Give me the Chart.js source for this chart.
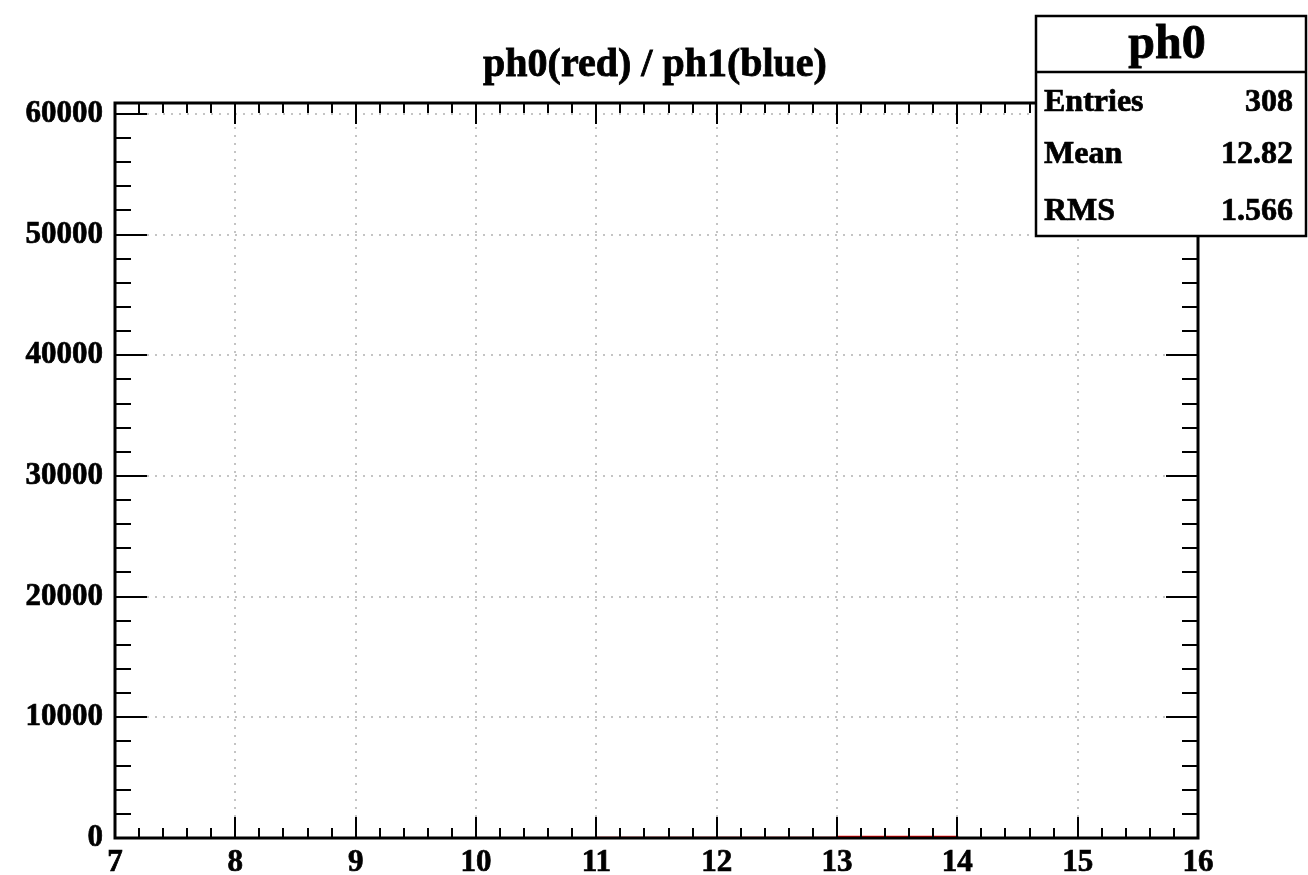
<!DOCTYPE html>
<html>
<head>
<meta charset="utf-8">
<title>ph0 / ph1</title>
<script src="https://cdn.jsdelivr.net/npm/chart.js@4/dist/chart.umd.min.js"></script>
<style>
  html, body { margin: 0; padding: 0; background: #ffffff; }
  #wrap { width: 1308px; height: 875px; position: relative; }
</style>
</head>
<body>
<div id="wrap"><canvas id="c" width="1308" height="875"></canvas></div>
<script>
// Histogram bins: lower edges (width 0.5) and contents
const binLowEdges = [7.0, 7.5, 8.0, 8.5, 9.0, 9.5, 10.0, 10.5, 11.0, 11.5, 12.0, 12.5, 13.0, 13.5, 14.0, 14.5, 15.0, 15.5];
const binUpperEnd = 16.0;
const ph0Counts = [2, 3, 4, 5, 6, 8, 9, 10, 12, 14, 16, 19, 104, 96, 0, 0, 0, 0];
const ph1Counts = [0, 0, 0, 0, 0, 0, 0, 0, 0, 0, 0, 0, 0, 0, 0, 0, 0, 0];

// Axis tick values
const xTickValues = [7, 8, 9, 10, 11, 12, 13, 14, 15, 16];
const yTickValues = [0, 10000, 20000, 30000, 40000, 50000, 60000];
const xRange = [7, 16];
const yRange = [0, 60900];

// Title and statistics box text
const titleText = 'ph0(red) / ph1(blue)';
const statsName = 'ph0';
const statsLabels = ['Entries', 'Mean', 'RMS'];
const statsValues = ['308', '12.82', '1.566'];

const FONT = "'Liberation Serif', 'DejaVu Serif', serif";

// Turn bin contents into step points (left edge of each bin, plus closing edge)
function stepPoints(counts) {
  const pts = binLowEdges.map((x, i) => ({ x: x, y: counts[i] }));
  pts.push({ x: binUpperEnd, y: counts[counts.length - 1] });
  return pts;
}

// Heavy text: fill plus a thin outline in the same colour
function heavyText(ctx, text, x, y, stroke) {
  ctx.fillText(text, x, y);
  ctx.lineWidth = stroke;
  ctx.strokeText(text, x, y);
}

// Frame, inward tick marks, title and stats box in the style of a ROOT canvas
const rootFrame = {
  id: 'rootFrame',
  afterDraw(chart) {
    const ctx = chart.ctx;
    const a = chart.chartArea;
    const xs = chart.scales.x, ys = chart.scales.y;
    ctx.save();
    ctx.strokeStyle = '#000';
    ctx.lineCap = 'butt';

    // inward ticks on all four sides
    ctx.lineWidth = 2;
    ctx.beginPath();
    for (let k = 0; k <= 45; k++) {
      const v = xRange[0] + k * 0.2;
      const px = Math.round(xs.getPixelForValue(v));
      const len = (k % 5 === 0) ? 21 : 10;
      ctx.moveTo(px, a.bottom); ctx.lineTo(px, a.bottom - len);
      ctx.moveTo(px, a.top); ctx.lineTo(px, a.top + len);
    }
    for (let k = 0; k <= 30; k++) {
      const v = k * 2000;
      const py = Math.round(ys.getPixelForValue(v));
      const len = (k % 5 === 0) ? 32 : 16;
      ctx.moveTo(a.left, py); ctx.lineTo(a.left + len, py);
      ctx.moveTo(a.right, py); ctx.lineTo(a.right - len, py);
    }
    ctx.stroke();

    // frame
    ctx.lineWidth = 3;
    ctx.strokeRect(a.left, a.top, a.right - a.left, a.bottom - a.top);

    // title
    ctx.fillStyle = '#000';
    ctx.font = 'bold 40px ' + FONT;
    ctx.textAlign = 'center';
    ctx.textBaseline = 'alphabetic';
    heavyText(ctx, titleText, 655, 76, 0.8);

    // statistics box
    const bx = 1036, by = 16, bw = 270, bh = 220, hdr = 56;
    ctx.fillStyle = '#fff';
    ctx.fillRect(bx, by, bw, bh);
    ctx.lineWidth = 2.5;
    ctx.strokeRect(bx, by, bw, bh);
    ctx.beginPath();
    ctx.moveTo(bx, by + hdr); ctx.lineTo(bx + bw, by + hdr);
    ctx.stroke();
    ctx.fillStyle = '#000';
    ctx.font = 'bold 48px ' + FONT;
    ctx.textAlign = 'center';
    heavyText(ctx, statsName, bx + bw / 2 - 4, 58, 0.8);
    ctx.font = 'bold 32px ' + FONT;
    const rowBase = [111, 163, 220];
    statsLabels.forEach((lab, i) => {
      ctx.textAlign = 'left';
      heavyText(ctx, lab, bx + 8, rowBase[i], 0.7);
      ctx.textAlign = 'right';
      heavyText(ctx, statsValues[i], bx + bw - 13, rowBase[i], 0.7);
    });
    ctx.restore();
  }
};

const gridStyle = { color: '#c4c4c4', lineWidth: 2, drawTicks: false };
const tickFont = { family: FONT, size: 31, weight: 'bold' };

new Chart(document.getElementById('c'), {
  type: 'line',
  data: {
    datasets: [
      { label: 'ph1', data: stepPoints(ph1Counts), borderColor: '#0000ff', borderWidth: 2,
        pointRadius: 0, stepped: 'before', fill: false },
      { label: 'ph0', data: stepPoints(ph0Counts), borderColor: '#ff0000', borderWidth: 2,
        pointRadius: 0, stepped: 'before', fill: false }
    ]
  },
  options: {
    responsive: false,
    animation: false,
    devicePixelRatio: 1,
    layout: { padding: { left: 0, top: 103, right: 110, bottom: 0 } },
    plugins: { legend: { display: false }, tooltip: { enabled: false }, title: { display: false } },
    scales: {
      x: {
        type: 'linear', min: xRange[0], max: xRange[1],
        afterBuildTicks: (s) => { s.ticks = xTickValues.map(v => ({ value: v })); },
        afterFit: (s) => { s.height = 37; },
        ticks: { font: tickFont, color: '#000', padding: 6, maxRotation: 0, autoSkip: false,
                 textStrokeColor: '#000', textStrokeWidth: 0.7 },
        grid: gridStyle,
        border: { display: false, dash: [2, 6] }
      },
      y: {
        type: 'linear', min: yRange[0], max: yRange[1],
        afterBuildTicks: (s) => { s.ticks = yTickValues.map(v => ({ value: v })); },
        afterFit: (s) => { s.width = 115; },
        ticks: { font: tickFont, color: '#000', padding: 12, callback: (v) => String(v),
                 textStrokeColor: '#000', textStrokeWidth: 0.7 },
        grid: gridStyle,
        border: { display: false, dash: [2, 6] }
      }
    }
  },
  plugins: [rootFrame]
});
</script>
</body>
</html>
